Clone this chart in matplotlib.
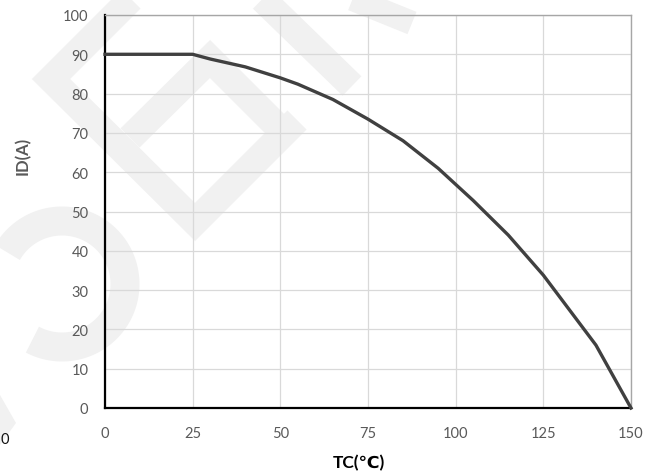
import numpy as np
import matplotlib
matplotlib.use("Agg")
import matplotlib.pyplot as plt
from matplotlib.patches import Polygon

# ---- data ----
tc_values = [0, 25, 30, 40, 50, 55, 65, 75, 85, 95, 105, 115, 125, 140, 150]
id_values = [90, 90, 88.8, 86.8, 84, 82.4, 78.5, 73.5, 68, 61, 52.8, 44, 33.8, 16, 0]
x_ticks = [0, 25, 50, 75, 100, 125, 150]
y_ticks = [0, 10, 20, 30, 40, 50, 60, 70, 80, 90, 100]
x_label = "TC(℃)"
y_label = "ID(A)"

W, H = 659, 477
DPI = 100
PX = 72.0 / DPI

plt.rcParams['font.family'] = ['Lato', 'DejaVu Sans']

fig = plt.figure(figsize=(W / DPI, H / DPI), dpi=DPI)
fig.patch.set_facecolor('white')

# ---- faint watermark (decorative background) ----
bg = fig.add_axes([0, 0, 1, 1], zorder=0)
bg.set_xlim(0, W)
bg.set_ylim(H, 0)
bg.axis('off')
wm = '#f1f1f1'

def stroke(pts, width_px):
    xs, ys = zip(*pts)
    bg.plot(xs, ys, color=wm, lw=width_px * PX, solid_capstyle='butt',
            solid_joinstyle='miter')

stroke([(141, -10), (51, 80), (195, 223), (297, 121)], 27)
stroke([(130, 139), (210, 60), (292, 142)], 27)
stroke([(250, -12), (352, 87)], 27)
stroke([(318, -14), (412, 24)], 24)
th = np.linspace(np.deg2rad(150), np.deg2rad(-118), 120)
cx, cy, r = 62, 285, 63
arc = [(cx + r * np.cos(t), cy - r * np.sin(t)) for t in th]
stroke(arc, 29)
bg.add_patch(Polygon([(0, 396), (16, 424), (0, 446)], closed=True,
                     facecolor=wm, edgecolor='none'))

# ---- main axes ----
left, right, top, bottom = 105, 631, 16, 409
ax = fig.add_axes([left / W, 1 - bottom / H, (right - left) / W, (bottom - top) / H],
                  zorder=1)
ax.set_facecolor('none')

ax.plot(tc_values, id_values, color='#404040', lw=2.4,
        solid_joinstyle='round', zorder=3, clip_on=False)

ax.set_xlim(0, 150)
ax.set_ylim(0, 100)
ax.set_xticks(x_ticks)
ax.set_yticks(y_ticks)
ax.grid(True, color='#d9d9d9', lw=0.9, zorder=0)
ax.set_axisbelow(True)

for s in ['left', 'bottom']:
    ax.spines[s].set_color('black')
    ax.spines[s].set_linewidth(1.6)
for s in ['top', 'right']:
    ax.spines[s].set_color('#a6a6a6')
    ax.spines[s].set_linewidth(1.0)

ax.tick_params(axis='both', length=0, labelsize=10.5, labelcolor='#595959')
ax.tick_params(axis='y', pad=12)
ax.tick_params(axis='x', pad=13)

fig.text(23 / W, 1 - 156 / H, y_label, rotation=90, ha='center', va='center',
         fontsize=12, fontweight='bold', color='#595959')
fig.text(359 / W, 1 - 463 / H, x_label, ha='center', va='center',
         fontsize=12.5, fontweight='bold', color='black')

# stray label at the left edge
fig.text(0.5 / W, 1 - 440 / H, "0", ha='left', va='center', fontsize=10.5,
         color='#111111')

fig.savefig('out.png', dpi=DPI, facecolor='white')
